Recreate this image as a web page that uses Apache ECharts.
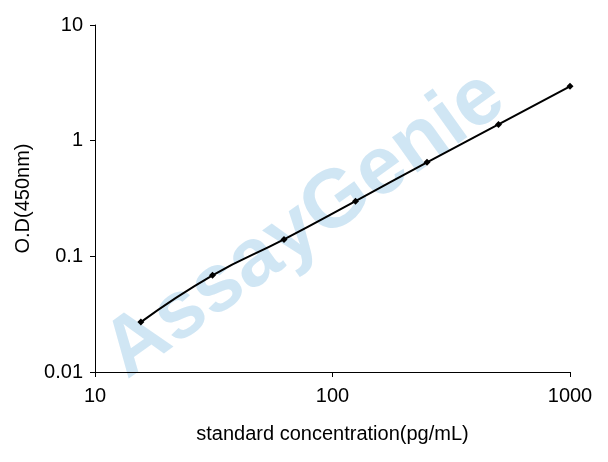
<!DOCTYPE html>
<html><head><meta charset="utf-8">
<script src="https://cdn.jsdelivr.net/npm/echarts@6/dist/echarts.min.js"></script>
<style>html,body{margin:0;padding:0;background:#fff}#c{width:608px;height:462px}</style>
</head><body><div id="c"></div>
<script>
const concentrations = [15.6, 31.25, 62.5, 125, 250, 500, 1000];
const odValues = [0.027, 0.0685, 0.14, 0.30, 0.65, 1.38, 2.95];
const chart = echarts.init(document.getElementById('c'));
const font = 'Liberation Sans, Arial, sans-serif';
chart.setOption({
  animation: false,
  grid: {left: 95, right: 38, top: 25, bottom: 90},
  graphic: [{type: 'text', x: 305, y: 225, rotation: 0.62, z: 0,
    style: {text: 'AssayGenie', font: 'bold 82px ' + font, fill: 'rgba(150,200,230,0.45)',
      align: 'center', verticalAlign: 'middle'}}],
  xAxis: {type: 'log', min: 10, max: 1000, logBase: 10,
    name: 'standard concentration(pg/mL)', nameLocation: 'middle', nameGap: 52,
    nameTextStyle: {fontSize: 20, color: '#000', fontFamily: font},
    axisLine: {lineStyle: {color: '#000'}}, axisTick: {show: true, inside: false, lineStyle: {color: '#000'}},
    minorTick: {show: false}, splitLine: {show: false},
    axisLabel: {fontSize: 20, color: '#000', fontFamily: font, margin: 14, formatter: v => String(Math.round(v))}},
  yAxis: {type: 'log', min: 0.01, max: 10, logBase: 10,
    name: 'O.D(450nm)', nameLocation: 'middle', nameGap: 62,
    nameTextStyle: {fontSize: 20, color: '#000', fontFamily: font},
    axisLine: {show: true, lineStyle: {color: '#000'}}, axisTick: {show: true, lineStyle: {color: '#000'}},
    splitLine: {show: false},
    axisLabel: {fontSize: 20, color: '#000', fontFamily: font, margin: 12,
      formatter: v => String(+v.toPrecision(3))}},
  series: [{type: 'line', smooth: true, data: concentrations.map((c, i) => [c, odValues[i]]),
    symbol: 'diamond', symbolSize: 7, itemStyle: {color: '#000'},
    lineStyle: {color: '#000', width: 2}}]
});
</script></body></html>
